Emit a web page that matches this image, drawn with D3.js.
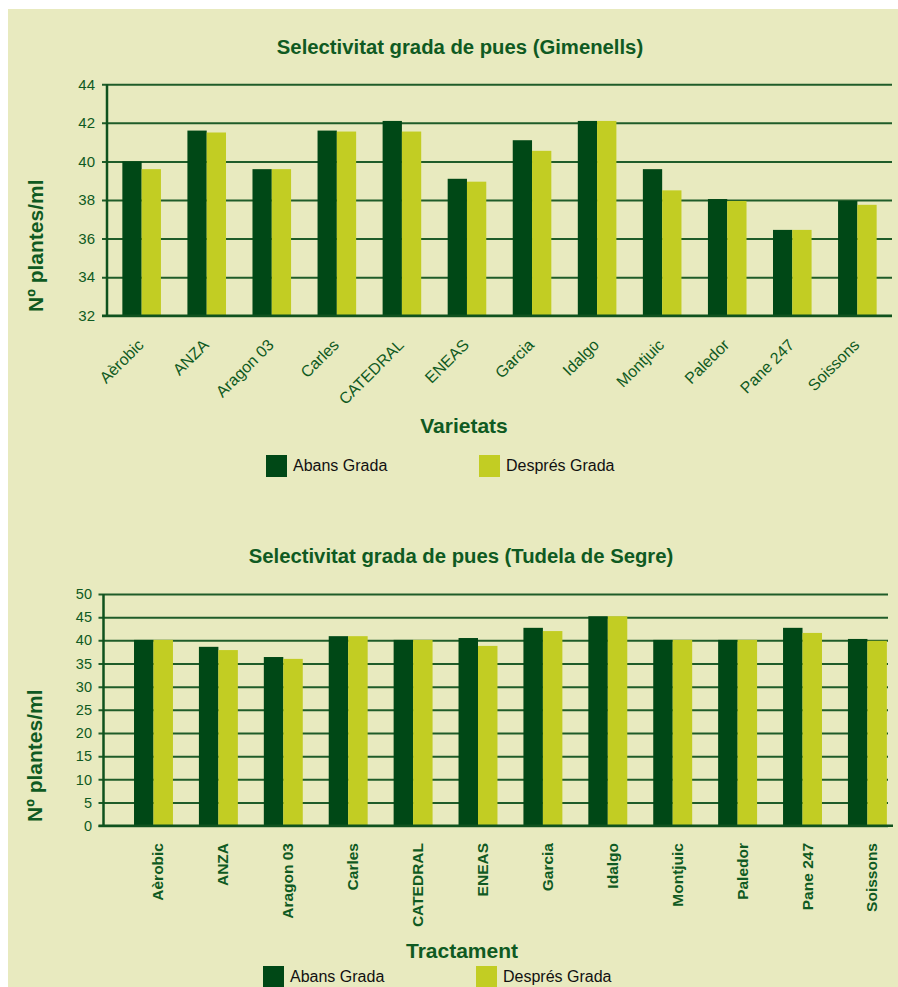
<!DOCTYPE html>
<html>
<head>
<meta charset="utf-8">
<script src="https://cdn.jsdelivr.net/npm/d3@7/dist/d3.min.js"></script>
<style>
  html, body { margin: 0; padding: 0; background: #ffffff; }
  svg { display: block; }
  text { font-family: "Liberation Sans", Arial, Helvetica, sans-serif; }
</style>
</head>
<body>
<svg id="chart" width="898" height="987"></svg>
<script>
// Varieties and plant counts (plants per linear metre) before and after harrowing
const varietats = ["Aèrobic", "ANZA", "Aragon 03", "Carles", "CATEDRAL", "ENEAS",
                   "Garcia", "Idalgo", "Montjuic", "Paledor", "Pane 247", "Soissons"];
const series = ["Abans Grada", "Després Grada"];

const gimenellsAbans   = [40.0, 41.6, 39.6, 41.6, 42.1, 39.1, 41.1, 42.1, 39.6, 38.05, 36.45, 37.95];
const gimenellsDespres = [39.6, 41.5, 39.6, 41.55, 41.55, 38.95, 40.55, 42.1, 38.5, 37.95, 36.45, 37.75];

const tudelaAbans   = [40.1, 38.6, 36.4, 40.9, 40.1, 40.5, 42.7, 45.2, 40.1, 40.1, 42.7, 40.3];
const tudelaDespres = [40.1, 37.9, 36.0, 40.9, 40.1, 38.8, 42.0, 45.2, 40.1, 40.1, 41.6, 39.9];

const gimenellsTicks = [32, 34, 36, 38, 40, 42, 44];
const tudelaTicks = [0, 5, 10, 15, 20, 25, 30, 35, 40, 45, 50];

const COLORS = { bg: "#e8eabf", dark: "#004816", light: "#c2cd23",
                 text: "#0f5a22", axis: "#0f521e", grid: "#1f5c29" };

const svg = d3.select("#chart");

// panel background (leaves a thin white margin top/left)
svg.append("rect").attr("x", 8).attr("y", 9).attr("width", 890).attr("height", 978)
  .attr("fill", COLORS.bg);

function drawChart(cfg) {
  const g = svg.append("g");
  const y = d3.scaleLinear().domain(cfg.domain).range([cfg.yBottom, cfg.yTop]);
  const x = d3.scaleBand().domain(varietats).range(cfg.xRange)
    .paddingInner(cfg.padInner).paddingOuter(cfg.padOuter);
  const xs = d3.scaleBand().domain(series).range([0, x.bandwidth()]);

  // title
  g.append("text").attr("x", cfg.titleX).attr("y", cfg.titleY)
    .attr("text-anchor", "middle").attr("font-weight", "bold").attr("font-size", 20.3)
    .attr("fill", COLORS.text).text(cfg.title);

  // horizontal grid lines with left ticks
  const yAxis = d3.axisLeft(y).tickValues(cfg.ticks).tickSize(-(cfg.gridRight - cfg.axisX))
    .tickPadding(0).tickFormat(d3.format("d"));
  const ga = g.append("g").attr("transform", `translate(${cfg.axisX},0)`).call(yAxis);
  ga.select(".domain").remove();
  ga.selectAll(".tick line").attr("stroke", COLORS.grid).attr("stroke-width", 2)
    .attr("x1", -5);
  ga.selectAll(".tick text").attr("x", cfg.labelEndX - cfg.axisX)
    .attr("fill", COLORS.text).attr("font-size", cfg.tickFont)
    .attr("font-family", "'Liberation Sans', Arial, sans-serif");

  // bars
  const rows = varietats.map((v, i) => ({ v, vals: [cfg.abans[i], cfg.despres[i]] }));
  const grp = g.append("g").selectAll("g").data(rows).join("g")
    .attr("transform", d => `translate(${x(d.v)},0)`);
  grp.selectAll("rect").data(d => d.vals.map((val, k) => ({ s: series[k], val })))
    .join("rect")
    .attr("x", d => xs(d.s)).attr("width", xs.bandwidth())
    .attr("y", d => y(d.val)).attr("height", d => y(cfg.domain[0]) - y(d.val))
    .attr("fill", d => d.s === series[0] ? COLORS.dark : COLORS.light);

  // axis lines
  g.append("line").attr("x1", cfg.axisX).attr("x2", cfg.axisX)
    .attr("y1", cfg.yTop).attr("y2", cfg.yBottom + 1)
    .attr("stroke", COLORS.axis).attr("stroke-width", 2.5);
  g.append("line").attr("x1", cfg.axisX - 5).attr("x2", cfg.baseRight)
    .attr("y1", cfg.yBottom).attr("y2", cfg.yBottom)
    .attr("stroke", COLORS.axis).attr("stroke-width", 2.5);

  // category labels
  const lab = g.append("g").selectAll("text").data(varietats).join("text")
    .attr("fill", COLORS.text).attr("text-anchor", "end").text(d => d);
  if (cfg.rotate === -45) {
    lab.attr("font-size", 16)
      .attr("transform", d => `translate(${x(d) + x.bandwidth() / 2 + 3},${cfg.catY}) rotate(-45)`);
  } else {
    lab.attr("font-size", 15.5).attr("font-weight", "bold")
      .attr("transform", d => `translate(${x(d) + x.bandwidth() / 2 + 10},${cfg.catY}) rotate(-90)`);
  }

  // axis titles
  g.append("text").attr("x", cfg.xTitleX).attr("y", cfg.xTitleY).attr("text-anchor", "middle")
    .attr("font-weight", "bold").attr("font-size", 21).attr("fill", COLORS.text)
    .text(cfg.xTitle);
  g.append("text").attr("transform", `translate(${cfg.yTitleX},${cfg.yTitleY}) rotate(-90)`)
    .attr("text-anchor", "start").attr("font-weight", "bold").attr("font-size", 21)
    .attr("fill", COLORS.text).text("Nº plantes/ml");

  // legend
  const leg = g.append("g").selectAll("g").data(series).join("g")
    .attr("transform", (d, i) => `translate(${cfg.legendX[i]},${cfg.legendY})`);
  leg.append("rect").attr("x", 0).attr("y", 0).attr("width", 21).attr("height", 22)
    .attr("fill", (d, i) => i === 0 ? COLORS.dark : COLORS.light);
  leg.append("text").attr("x", 27).attr("y", 16).attr("font-size", 16)
    .attr("fill", "#111").text(d => d);
}

drawChart({
  title: "Selectivitat grada de pues (Gimenells)", titleX: 460, titleY: 54,
  domain: [32, 44], ticks: gimenellsTicks, yTop: 84.3, yBottom: 315.7,
  axisX: 107, gridRight: 892, baseRight: 892, labelEndX: 95, tickFont: 15,
  xRange: [107, 892], padInner: 0.407, padOuter: 0.236,
  abans: gimenellsAbans, despres: gimenellsDespres,
  rotate: -45, catY: 346,
  xTitle: "Varietats", xTitleX: 464, xTitleY: 433,
  yTitleX: 43, yTitleY: 312,
  legendX: [266, 479], legendY: 455
});

drawChart({
  title: "Selectivitat grada de pues (Tudela de Segre)", titleX: 461, titleY: 563,
  domain: [0, 50], ticks: tudelaTicks, yTop: 594, yBottom: 825.7,
  axisX: 103.5, gridRight: 888, baseRight: 893, labelEndX: 92, tickFont: 14.5,
  xRange: [118.7, 902.2], padInner: 0.4, padOuter: 0.236,
  abans: tudelaAbans, despres: tudelaDespres,
  rotate: -90, catY: 843,
  xTitle: "Tractament", xTitleX: 462, xTitleY: 958,
  yTitleX: 42, yTitleY: 822,
  legendX: [263, 476], legendY: 966
});
</script>
</body>
</html>
